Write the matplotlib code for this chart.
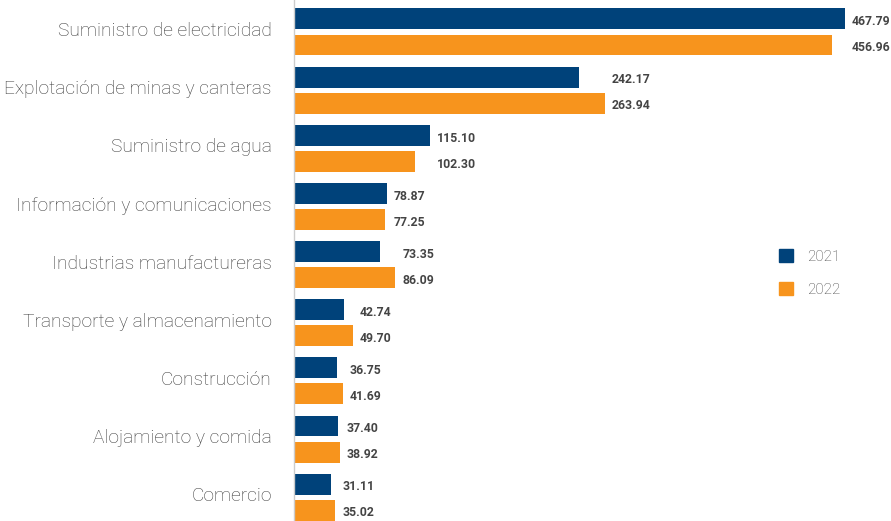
import matplotlib.pyplot as plt
import matplotlib.transforms as mtransforms
import numpy as np
from matplotlib.patches import Patch

categorias = ['Suministro de electricidad', 'Explotación de minas y canteras',
              'Suministro de agua', 'Información y comunicaciones',
              'Industrias manufactureras', 'Transporte y almacenamiento',
              'Construcción', 'Alojamiento y comida', 'Comercio']
v2021 = [467.79, 242.17, 115.10, 78.87, 73.35, 42.74, 36.75, 37.40, 31.11]
v2022 = [456.96, 263.94, 102.30, 77.25, 86.09, 49.70, 41.69, 38.92, 35.02]

AZUL = '#00427a'
NARANJA = '#f7941d'
GRIS = '#444444'

plt.rcParams['font.family'] = ['Roboto', 'DejaVu Sans']

fig = plt.figure(figsize=(8.91, 5.21), dpi=100)
ax = fig.add_axes([294 / 891, 0, (891 - 294) / 891, 1])

y = np.arange(len(categorias))
off = 0.224
h = 0.36
ax.barh(y - off, v2021, height=h, color=AZUL, label='2021')
ax.barh(y + off, v2022, height=h, color=NARANJA, label='2022')

# etiquetas de valor, alineadas al final de la barra más larga del grupo
for i in range(len(categorias)):
    xm = max(v2021[i], v2022[i])
    for val, yy in ((v2021[i], y[i] - off), (v2022[i], y[i] + off)):
        ax.annotate(f'{val:.2f}', (xm, yy), xytext=(5, -2), textcoords='offset points',
                    ha='left', va='center', fontsize=8.8, fontweight='bold', color=GRIS)

ax.set_xlim(0, (891 - 294) / 1.178)
ax.set_ylim(8.41, -0.55)
ax.set_yticks(y)
ax.set_yticklabels(categorias, fontsize=13.8, fontweight='light', color='#3a3a3a')
ax.tick_params(axis='y', length=0, pad=16)
# subir un poco los nombres de categoría
shift = mtransforms.ScaledTranslation(0, 2 / 72, fig.dpi_scale_trans)
for lbl in ax.get_yticklabels():
    lbl.set_transform(lbl.get_transform() + shift)
ax.set_xticks([])
for s in ['top', 'right', 'bottom']:
    ax.spines[s].set_visible(False)
ax.spines['left'].set_color('#cccccc')
ax.spines['left'].set_linewidth(1)

handles = [Patch(color=AZUL, label='2021'), Patch(color=NARANJA, label='2022')]
leg = ax.legend(handles=handles, loc='upper left', bbox_to_anchor=(0.812, 0.522),
                frameon=False, borderpad=0, borderaxespad=0,
                handlelength=0.95, handleheight=0.95, handletextpad=0.9,
                labelspacing=1.2, fontsize=11)
for t in leg.get_texts():
    t.set_color(GRIS)
    t.set_fontweight('light')

plt.savefig('out.png', dpi=100)
